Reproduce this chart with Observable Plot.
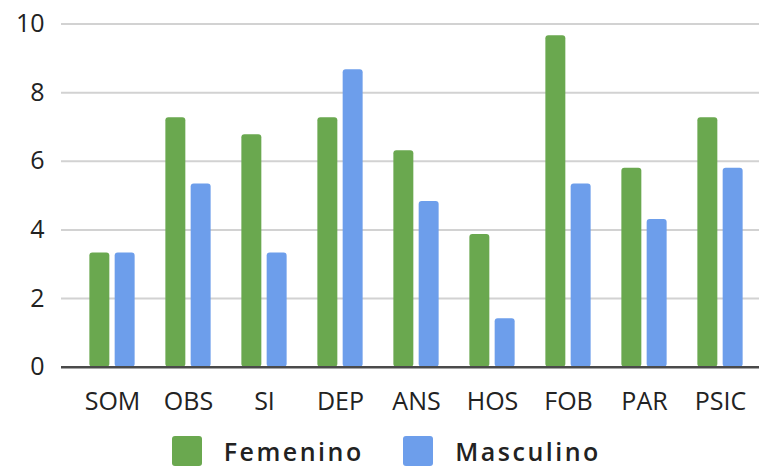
<!DOCTYPE html>
<html><head><meta charset="utf-8">
<script src="https://cdn.jsdelivr.net/npm/d3@7"></script>
<script src="https://cdn.jsdelivr.net/npm/@observablehq/plot@0.6"></script>
<style>
body{margin:0;background:#fff;font-family:"Open Sans",sans-serif;}
#chart{width:760px;height:466px;position:relative;overflow:hidden;}
#chart svg{display:block;}
.legend{position:absolute;top:436px;left:0;width:760px;height:30px;}
.item{position:absolute;top:0;display:flex;align-items:center;height:30px;}
.sw{width:30px;height:30px;border-radius:3px;margin-right:22px;box-sizing:border-box;}
.lab{font-size:25px;font-weight:600;letter-spacing:2.5px;color:#222;line-height:1;}
</style></head><body><div id="chart"></div>
<script>
const categories = ["SOM","OBS","SI","DEP","ANS","HOS","FOB","PAR","PSIC"];
const series = ["Femenino","Masculino"];
const femenino = [3.33,7.27,6.77,7.27,6.31,3.87,9.66,5.80,7.27];
const masculino = [3.33,5.34,3.33,8.67,4.83,1.41,5.34,4.30,5.80];
const yTicks = [0,2,4,6,8,10];
const colors = ["#6aa84f","#6d9eeb"];

const W = 760, H = 428, mL = 61, mR = 1, insL = 11;
const step = (W - mL - mR - insL) / categories.length;
const barW = 20.3, gap = 5;
const outer = (step - (2*barW + gap)) / 2;

const values = [femenino, masculino];
const rows = series.map((s, i) => categories.map((c, j) => ({cat: c, series: s, value: values[i][j]})));

const plot = Plot.plot({
  width: W, height: H,
  marginLeft: mL, marginRight: mR, marginTop: 23.5, marginBottom: 61.3,
  style: {fontFamily: "Open Sans, sans-serif", fontSize: "25px", color: "#222", background: "transparent"},
  x: {domain: categories, padding: 0, insetLeft: insL, label: null, tickSize: 0, tickPadding: 25},
  y: {domain: [0, 10], ticks: yTicks, label: null, tickSize: 0, tickPadding: 17},
  color: {domain: series, range: colors},
  marks: [
    Plot.ruleY(yTicks.filter(d => d > 0), {stroke: "#d2d2d2", strokeWidth: 2}),
    Plot.barY(rows[0], {x: "cat", y: "value", fill: "series", insetLeft: outer, insetRight: outer + barW + gap, rx: 3}),
    Plot.barY(rows[1], {x: "cat", y: "value", fill: "series", insetLeft: outer + barW + gap, insetRight: outer, rx: 3}),
    Plot.ruleY([0], {stroke: "#4a4a4a", strokeWidth: 2.5})
  ]
});
const chart = document.getElementById("chart");
chart.appendChild(plot);

const legend = document.createElement("div");
legend.className = "legend";
const lefts = [171.7, 403.3];
series.forEach((s, i) => {
  const it = document.createElement("div");
  it.className = "item";
  it.style.left = lefts[i] + "px";
  const sw = document.createElement("div");
  sw.className = "sw";
  sw.style.background = colors[i];
  const lab = document.createElement("span");
  lab.className = "lab";
  lab.textContent = s;
  it.appendChild(sw); it.appendChild(lab);
  legend.appendChild(it);
});
chart.appendChild(legend);
</script></body></html>
